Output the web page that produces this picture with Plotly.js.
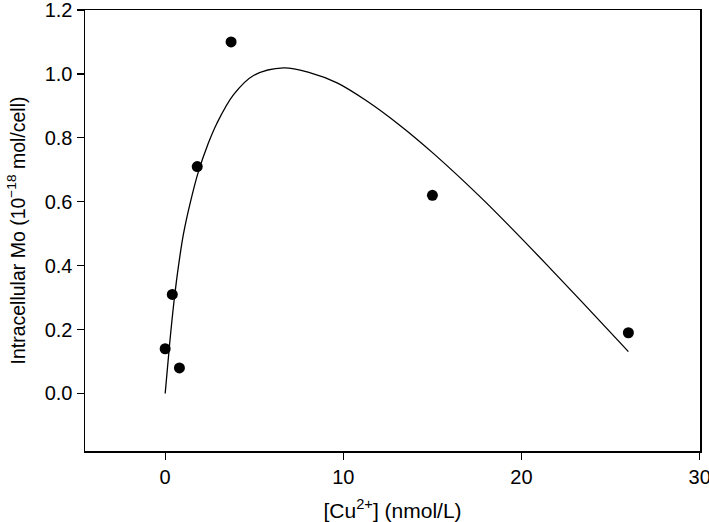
<!DOCTYPE html>
<html>
<head>
<meta charset="utf-8">
<script src="https://cdn.plot.ly/plotly-3.0.1.min.js"></script>
<style>
  html, body { margin: 0; padding: 0; background: #fff; }
  #plotArea { width: 709px; height: 522px; }
</style>
</head>
<body>
<div id="plotArea"></div>
<script>
    // measured points
    var cuConc = [0, 0.4, 0.8, 1.8, 3.7, 15, 26];
    var moCell = [0.14, 0.31, 0.08, 0.71, 1.10, 0.62, 0.19];

    // fitted curve
    var fitX = [0, 0.25, 0.5, 0.75, 1.03, 1.4, 1.87, 2.4, 2.9, 3.84, 4.96, 6.65, 8.15, 9.65, 11.3, 13.2, 15.1, 17.8, 19.6, 21.4, 23.3, 25.4, 26];
    var fitY = [0, 0.155, 0.29, 0.40, 0.50, 0.595, 0.695, 0.78, 0.845, 0.935, 0.995, 1.019, 1.003, 0.972, 0.916, 0.838, 0.749, 0.609, 0.508, 0.404, 0.292, 0.167, 0.131];

    var xTicks = [0, 10, 20, 30];
    var yTicks = [0.0, 0.2, 0.4, 0.6, 0.8, 1.0, 1.2];

    var fit = {
        x: fitX,
        y: fitY,
        mode: 'lines',
        type: 'scatter',
        line: {color: '#000', width: 1.3, shape: 'spline', smoothing: 1},
        hoverinfo: 'skip'
    };

    var points = {
        x: cuConc,
        y: moCell,
        mode: 'markers',
        type: 'scatter',
        marker: {color: '#000', size: 11}
    };

    var layout = {
        width: 709,
        height: 522,
        showlegend: false,
        paper_bgcolor: '#fff',
        plot_bgcolor: '#fff',
        margin: {l: 85, r: 9, t: 10, b: 71},
        font: {family: 'Liberation Sans, Arial, sans-serif', color: '#000', size: 20},
        xaxis: {
            range: [-4.5, 30.02],
            tickvals: xTicks,
            ticks: 'outside',
            ticklen: 7,
            tickwidth: 1.3,
            tickcolor: '#000',
            ticklabeloverflow: 'allow',
            showline: true,
            linecolor: '#000',
            linewidth: 1.5,
            mirror: true,
            showgrid: false,
            zeroline: false,
            tickfont: {size: 20},
            title: {text: '[Cu<sup>2+</sup>] (nmol/L)', font: {size: 21}, standoff: 20}
        },
        yaxis: {
            range: [-0.18, 1.2],
            tickvals: yTicks,
            tickformat: '.1f',
            ticks: 'outside',
            ticklen: 7,
            tickwidth: 1.3,
            tickcolor: '#000',
            ticklabeloverflow: 'allow',
            showline: true,
            linecolor: '#000',
            linewidth: 1.5,
            mirror: true,
            showgrid: false,
            zeroline: false,
            tickfont: {size: 20},
            title: {text: 'Intracellular Mo (10<sup>\u221218</sup> mol/cell)', font: {size: 19.5}, standoff: 14}
        }
    };

    Plotly.newPlot('plotArea', [fit, points], layout, {displayModeBar: false, staticPlot: true});
</script>
</body>
</html>
